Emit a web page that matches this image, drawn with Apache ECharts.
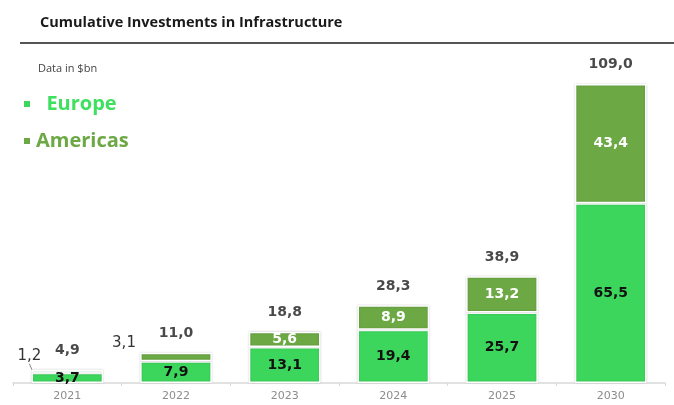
<!DOCTYPE html>
<html>
<head>
<meta charset="utf-8">
<script src="https://cdn.jsdelivr.net/npm/echarts@6/dist/echarts.min.js"></script>
<style>
  html, body { margin: 0; padding: 0; background: #fff; }
  #chart { width: 674px; height: 405px; }
</style>
</head>
<body>
<div id="chart"></div>
<script>
const years = ['2021', '2022', '2023', '2024', '2025', '2030'];
const europe = [3.7, 7.9, 13.1, 19.4, 25.7, 65.5];
const americas = [1.2, 3.1, 5.6, 8.9, 13.2, 43.4];
const totals = [4.9, 11.0, 18.8, 28.3, 38.9, 109.0];

const EUROPE_COLOR = '#3dd65c';
const AMERICAS_COLOR = '#6ca844';
const NUM_FONT = 'DejaVu Sans';

// comma as decimal separator, like the original
const fmt = (v) => Number(v).toFixed(1).replace('.', ',');

const chart = echarts.init(document.getElementById('chart'));

// small americas values sit outside the bar, to the left
const americasData = americas.map((v, i) => {
  if (i === 0) {
    return {
      value: v,
      itemStyle: { color: '#cdeec4' },
      label: { color: '#333', fontWeight: 'normal', fontSize: 15 },
      labelLine: { show: true, lineStyle: { color: '#888', width: 1 } }
    };
  }
  if (i === 1) {
    return { value: v, label: { color: '#333', fontWeight: 'normal', fontSize: 15 } };
  }
  return v;
});

const option = {
  backgroundColor: '#fff',
  textStyle: { fontFamily: 'Open Sans' },
  title: {
    text: 'Cumulative Investments in Infrastructure',
    left: 35,
    top: 10,
    textStyle: { fontSize: 14.5, fontWeight: 'bold', color: '#1a1a1a', fontFamily: 'Open Sans' }
  },
  graphic: [
    { type: 'rect', left: 20, top: 42, shape: { width: 660, height: 2 }, style: { fill: '#555' } },
    { type: 'text', left: 38, top: 63, style: { text: 'Data in $bn', fontSize: 11, fill: '#444', fontFamily: 'Open Sans' } }
  ],
  legend: {
    orient: 'vertical',
    left: 17,
    top: 89,
    itemGap: 17,
    itemWidth: 8,
    itemHeight: 8,
    icon: 'rect',
    formatter: (name) => (name === 'Europe' ? '  ' + name : name),
    textStyle: { fontSize: 20, fontWeight: 'bold', fontFamily: 'Open Sans' },
    data: [
      { name: 'Europe', textStyle: { color: '#3ee060' } },
      { name: 'Americas', textStyle: { color: AMERICAS_COLOR } }
    ]
  },
  grid: { left: 13, right: 9, top: 81, bottom: 22 },
  xAxis: {
    type: 'category',
    data: years,
    axisLine: { lineStyle: { color: '#d9d9d9', width: 1.5 } },
    axisTick: { show: true, length: 3, lineStyle: { color: '#d9d9d9' } },
    axisLabel: { color: '#8c8c8c', fontSize: 11, margin: 8, fontFamily: NUM_FONT }
  },
  yAxis: {
    type: 'value',
    min: 0,
    max: 110,
    show: false,
    splitLine: { show: false }
  },
  series: [
    {
      name: 'Europe',
      type: 'bar',
      stack: 'total',
      barWidth: '66%',
      data: europe,
      itemStyle: {
        color: EUROPE_COLOR,
        borderColor: '#fff',
        borderWidth: 1.5,
        shadowBlur: 2,
        shadowColor: 'rgba(0,0,0,0.18)'
      },
      label: {
        show: true,
        position: 'inside',
        formatter: (p) => fmt(p.value),
        color: '#111',
        fontSize: 14,
        fontWeight: 'bold',
        fontFamily: NUM_FONT
      }
    },
    {
      name: 'Americas',
      type: 'bar',
      stack: 'total',
      barWidth: '66%',
      data: americasData,
      itemStyle: {
        color: AMERICAS_COLOR,
        borderColor: '#fff',
        borderWidth: 1.5,
        shadowBlur: 2,
        shadowColor: 'rgba(0,0,0,0.18)'
      },
      label: {
        show: true,
        position: 'inside',
        formatter: (p) => fmt(p.value),
        color: '#fff',
        fontSize: 14,
        fontWeight: 'bold',
        fontFamily: NUM_FONT
      },
      labelLayout: (params) => {
        if (params.dataIndex === 0) return { dx: -38, dy: -15 };
        if (params.dataIndex === 1) return { dx: -52, dy: -14 };
        return {};
      }
    },
    {
      name: 'Total',
      type: 'scatter',
      data: totals,
      symbolSize: 0,
      silent: true,
      label: {
        show: true,
        position: 'top',
        distance: 12,
        formatter: (p) => fmt(p.value),
        color: '#1a1a1a',
        fontSize: 14,
        fontWeight: 'bold',
        fontFamily: NUM_FONT
      }
    }
  ]
};

chart.setOption(option);
</script>
</body>
</html>
